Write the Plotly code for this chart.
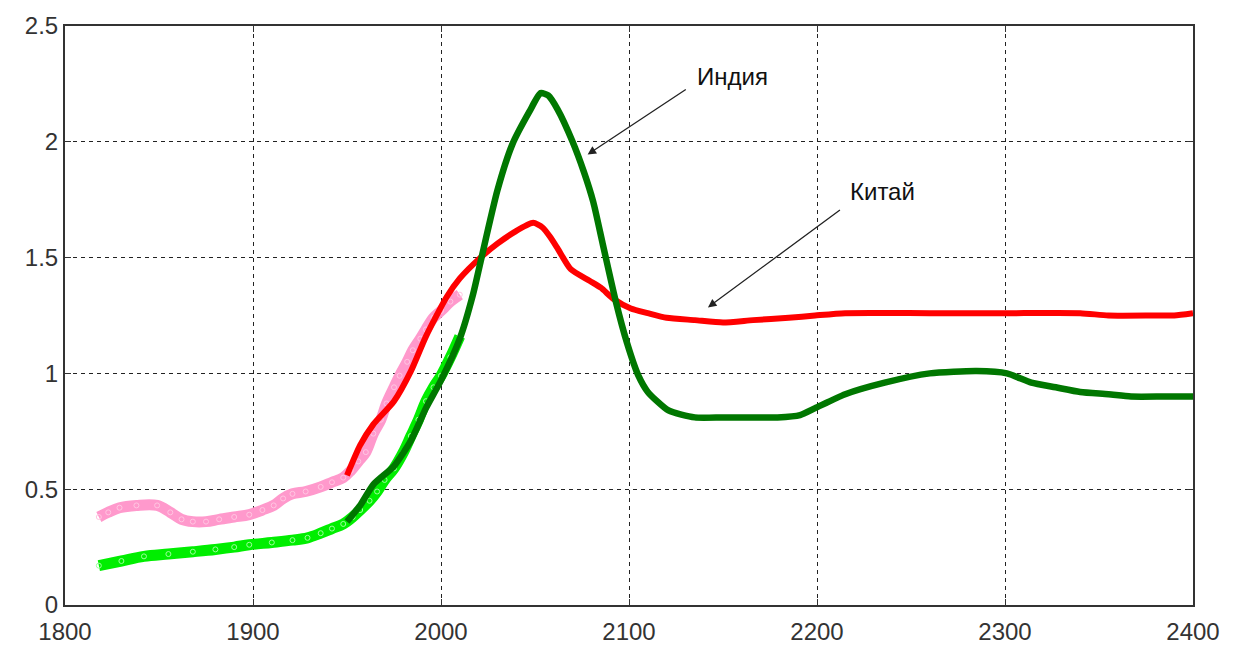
import plotly.graph_objects as go

# Historic data (thick light lines)
china_hist_years = [1818, 1823, 1829, 1838, 1849, 1856, 1862, 1868, 1875, 1882, 1890, 1898, 1905, 1911, 1916, 1921, 1928, 1936, 1942, 1948, 1952, 1956, 1960, 1964, 1968, 1971, 1975, 1978, 1982, 1985, 1989, 1992, 1996, 2000, 2005, 2010]
china_hist_vals = [0.38, 0.40, 0.42, 0.43, 0.43, 0.40, 0.37, 0.36, 0.36, 0.37, 0.38, 0.39, 0.41, 0.43, 0.46, 0.48, 0.49, 0.51, 0.53, 0.55, 0.58, 0.62, 0.66, 0.74, 0.80, 0.87, 0.94, 0.99, 1.05, 1.10, 1.15, 1.19, 1.24, 1.27, 1.31, 1.34]

india_hist_years = [1818, 1830, 1842, 1855, 1868, 1880, 1890, 1898, 1910, 1921, 1929, 1936, 1942, 1948, 1953, 1957, 1962, 1966, 1970, 1975, 1980, 1984, 1988, 1992, 1996, 2000, 2005, 2010]
india_hist_vals = [0.17, 0.19, 0.21, 0.22, 0.23, 0.24, 0.25, 0.26, 0.27, 0.28, 0.29, 0.31, 0.33, 0.35, 0.38, 0.41, 0.45, 0.49, 0.54, 0.59, 0.66, 0.73, 0.80, 0.88, 0.94, 0.99, 1.07, 1.16]

# Model curves
india_years = [1950, 1957, 1964, 1975, 1984, 1992, 2000, 2010, 2017, 2021, 2030, 2038, 2047, 2053, 2057, 2062, 2070, 2076, 2081, 2086, 2093, 2099, 2105, 2110, 2121, 2135, 2150, 2165, 2179, 2191, 2199, 2215, 2236, 2260, 2285, 2301, 2314, 2327, 2340, 2355, 2367, 2385, 2400]
india_vals = [0.36, 0.43, 0.52, 0.60, 0.71, 0.85, 0.97, 1.15, 1.34, 1.48, 1.79, 1.99, 2.13, 2.21, 2.20, 2.14, 2.00, 1.87, 1.74, 1.56, 1.31, 1.13, 0.99, 0.92, 0.84, 0.81, 0.81, 0.81, 0.81, 0.82, 0.85, 0.91, 0.96, 1.00, 1.01, 1.00, 0.96, 0.94, 0.92, 0.91, 0.90, 0.90, 0.90]

china_years = [1950, 1957, 1964, 1975, 1984, 1992, 2003, 2010, 2021, 2030, 2039, 2049, 2054, 2058, 2062, 2069, 2079, 2085, 2092, 2101, 2110, 2120, 2135, 2150, 2166, 2185, 2199, 2215, 2260, 2300, 2340, 2355, 2380, 2390, 2400]
china_vals = [0.56, 0.69, 0.78, 0.88, 1.01, 1.16, 1.33, 1.41, 1.50, 1.56, 1.61, 1.65, 1.63, 1.59, 1.54, 1.45, 1.40, 1.37, 1.32, 1.28, 1.26, 1.24, 1.23, 1.22, 1.23, 1.24, 1.25, 1.26, 1.26, 1.26, 1.26, 1.25, 1.25, 1.25, 1.26]

x_ticks = [1800, 1900, 2000, 2100, 2200, 2300, 2400]
y_ticks = [0, 0.5, 1, 1.5, 2, 2.5]
y_tick_labels = ["0", "0.5", "1", "1.5", "2", "2.5"]

fig = go.Figure()

fig.add_trace(go.Scatter(x=china_hist_years, y=china_hist_vals, mode="lines+markers",
                         line=dict(color="#ff99cc", width=11, shape="spline"),
                         marker=dict(symbol="circle-open", size=5, color="#ffc6e2", line=dict(width=1)),
                         showlegend=False))
fig.add_trace(go.Scatter(x=india_hist_years, y=india_hist_vals, mode="lines+markers",
                         line=dict(color="#00ee00", width=11, shape="spline"),
                         marker=dict(symbol="circle-open", size=5, color="#9cff9c", line=dict(width=1)),
                         showlegend=False))
fig.add_trace(go.Scatter(x=china_years, y=china_vals, mode="lines",
                         line=dict(color="#ff0000", width=6, shape="spline", smoothing=0.6), showlegend=False))
fig.add_trace(go.Scatter(x=india_years, y=india_vals, mode="lines",
                         line=dict(color="#007700", width=6.5, shape="spline", smoothing=0.6), showlegend=False))

font = dict(family="Liberation Sans, Arial", size=24, color="#333333")

fig.add_annotation(x=2078, y=1.945, ax=2131, ay=2.23, xref="x", yref="y", axref="x", ayref="y",
                   text="", showarrow=True, arrowhead=2, arrowsize=1.3, arrowwidth=1.3, arrowcolor="#222222")
fig.add_annotation(x=2155, y=2.28, xref="x", yref="y", text="Индия", showarrow=False,
                   font=dict(family="Liberation Sans, Arial", size=24, color="#111111"))
fig.add_annotation(x=2142, y=1.285, ax=2213, ay=1.71, xref="x", yref="y", axref="x", ayref="y",
                   text="", showarrow=True, arrowhead=2, arrowsize=1.3, arrowwidth=1.3, arrowcolor="#222222")
fig.add_annotation(x=2235, y=1.785, xref="x", yref="y", text="Китай", showarrow=False,
                   font=dict(family="Liberation Sans, Arial", size=24, color="#111111"))

axis_common = dict(showline=True, linecolor="#333333", linewidth=2, mirror="allticks",
                   ticks="inside", ticklen=6, tickcolor="#333333",
                   showgrid=True, gridcolor="#222222", gridwidth=1, griddash="4px,4px",
                   zeroline=False, tickfont=font)

fig.update_xaxes(range=[1800, 2400], tickvals=x_ticks, ticktext=[str(v) for v in x_ticks],
                 ticklabelstandoff=4, **axis_common)
fig.update_yaxes(range=[0, 2.5], tickvals=y_ticks, ticktext=y_tick_labels, **axis_common)

fig.update_layout(width=1252, height=657, margin=dict(l=65, r=59, t=22, b=36),
                  plot_bgcolor="white", paper_bgcolor="white")

fig.write_html("out.html", config={"displayModeBar": False},
               post_script="document.body.style.margin='0';document.body.style.overflow='hidden';")
